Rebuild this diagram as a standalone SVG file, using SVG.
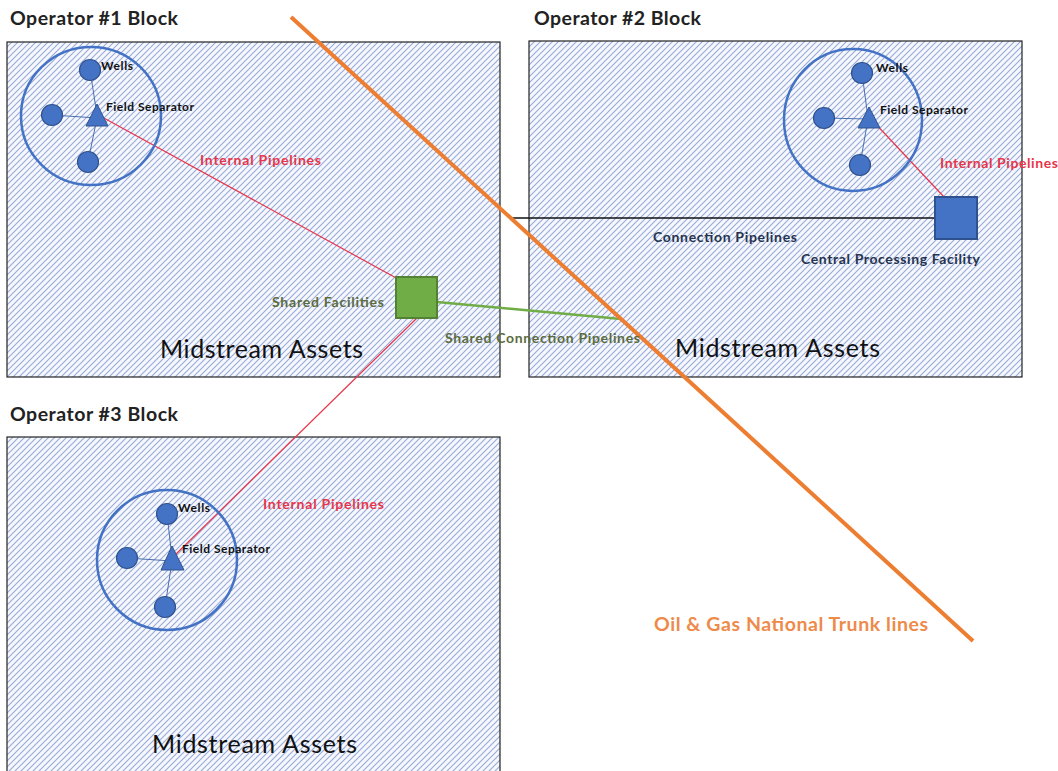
<svg xmlns="http://www.w3.org/2000/svg" width="1058" height="771" viewBox="0 0 1058 771">
  <style>
    .title { font-family: Lato, "Open Sans", sans-serif; font-weight: bold; font-size: 19.5px; fill: #222; }
    .asset { font-family: Lato, "Open Sans", sans-serif; font-size: 25px; fill: #111; }
    .small { font-family: Lato, "Open Sans", sans-serif; font-weight: bold; font-size: 12px; fill: #111; }
    .lbl { font-family: Lato, "Open Sans", sans-serif; font-weight: bold; font-size: 14px; }
    .red { fill: #e8354a; }
    .olive { fill: #5b6b3e; }
    .dark { fill: #26334f; }
    .block { fill: url(#hatch); stroke: #222; stroke-width: 1.2; }
    .ring { fill: none; stroke: #4472c4; stroke-width: 2.5; }
    .well { fill: #4472c4; stroke: #2f528f; stroke-width: 1.2; }
    .spoke { stroke: #4a6fb0; stroke-width: 1; }
    .sep { fill: #4472c4; stroke: #2f528f; stroke-width: 1; }
    .pipe-red { stroke: #e8354a; stroke-width: 1.2; fill: none; }
  </style>
  <defs>
    <pattern id="hatch" patternUnits="userSpaceOnUse" width="6" height="6">
      <rect width="6" height="6" fill="#f6f8fd"/>
      <path d="M-1,1 l2,-2 M0,6 l6,-6 M5,7 l2,-2" stroke="#98aad8" stroke-width="1.1"/>
    </pattern>
  </defs>

  <rect width="1058" height="771" fill="#ffffff"/>

  <!-- operator blocks -->
  <g id="block1">
    <text class="title" x="10" y="25" textLength="168">Operator #1 Block</text>
    <rect class="block" x="7" y="42" width="493" height="335"/>
    <text class="asset" x="160" y="358" textLength="203">Midstream Assets</text>
  </g>
  <g id="block2">
    <text class="title" x="534" y="25" textLength="167">Operator #2 Block</text>
    <rect class="block" x="529" y="41" width="493" height="336"/>
    <text class="asset" x="675" y="357" textLength="205">Midstream Assets</text>
  </g>
  <g id="block3">
    <text class="title" x="10" y="421" textLength="168">Operator #3 Block</text>
    <rect class="block" x="7" y="437" width="493" height="340"/>
    <text class="asset" x="152" y="753" textLength="205">Midstream Assets</text>
  </g>

  <!-- connectors -->
  <g id="connectors">
    <line class="pipe-red" x1="102" y1="117" x2="398" y2="279"/>
    <line class="pipe-red" x1="417" y1="318" x2="174" y2="556"/>
    <line class="pipe-red" x1="872" y1="120" x2="944" y2="197"/>
    <line x1="512" y1="218" x2="935" y2="218" stroke="#111" stroke-width="1.3"/>
    <line x1="437" y1="302" x2="621" y2="319" stroke="#70ad47" stroke-width="2.5"/>
    <line x1="291" y1="17" x2="973" y2="641" stroke="#ed7d31" stroke-width="4"/>
  </g>

  <!-- field clusters -->
  <g id="cluster1">
    <ellipse class="ring" cx="91" cy="116" rx="70" ry="69"/>
    <line class="spoke" x1="97" y1="115" x2="90" y2="70"/>
    <line class="spoke" x1="97" y1="118" x2="52" y2="115"/>
    <line class="spoke" x1="97" y1="118" x2="88" y2="162"/>
    <circle class="well" cx="90" cy="70" r="10.5"/>
    <circle class="well" cx="52" cy="115" r="10.5"/>
    <circle class="well" cx="88" cy="162" r="10.5"/>
    <polygon class="sep" points="97,104 86,126 108,126"/>
    <text class="small" x="101" y="70" textLength="32">Wells</text>
    <text class="small" x="106" y="111" textLength="88">Field Separator</text>
  </g>
  <g id="cluster2">
    <ellipse class="ring" cx="853" cy="120" rx="69" ry="71"/>
    <line class="spoke" x1="868" y1="118" x2="862" y2="73"/>
    <line class="spoke" x1="868" y1="119" x2="824" y2="118"/>
    <line class="spoke" x1="868" y1="119" x2="860" y2="165"/>
    <circle class="well" cx="862" cy="73" r="10.5"/>
    <circle class="well" cx="824" cy="118" r="10.5"/>
    <circle class="well" cx="860" cy="165" r="10.5"/>
    <polygon class="sep" points="869,107 858,128 880,128"/>
    <text class="small" x="876" y="72" textLength="32">Wells</text>
    <text class="small" x="880" y="114" textLength="88">Field Separator</text>
  </g>
  <g id="cluster3">
    <ellipse class="ring" cx="167" cy="560" rx="70" ry="70"/>
    <line class="spoke" x1="172" y1="558" x2="167" y2="514"/>
    <line class="spoke" x1="172" y1="561" x2="127" y2="558"/>
    <line class="spoke" x1="172" y1="561" x2="165" y2="607"/>
    <circle class="well" cx="167" cy="514" r="10.5"/>
    <circle class="well" cx="127" cy="558" r="10.5"/>
    <circle class="well" cx="165" cy="607" r="10.5"/>
    <polygon class="sep" points="172,546 161,570 184,570"/>
    <text class="small" x="178" y="512" textLength="32">Wells</text>
    <text class="small" x="182" y="553" textLength="88">Field Separator</text>
  </g>

  <!-- facilities -->
  <g id="shared-facilities">
    <rect x="396" y="277" width="41" height="41" fill="#70ad47" stroke="#548235" stroke-width="2"/>
    <text class="lbl olive" x="272" y="307" textLength="112">Shared Facilities</text>
  </g>
  <g id="central-processing">
    <rect x="935" y="197" width="42" height="42" fill="#4472c4" stroke="#2f528f" stroke-width="2"/>
    <text class="lbl dark" x="801" y="264" textLength="179">Central Processing Facility</text>
  </g>

  <!-- connector labels -->
  <g id="labels">
    <text class="lbl red" x="200" y="165" textLength="121">Internal Pipelines</text>
    <text class="lbl red" x="940" y="168" textLength="118">Internal Pipelines</text>
    <text class="lbl red" x="263" y="509" textLength="121">Internal Pipelines</text>
    <text class="lbl dark" x="653" y="242" textLength="144">Connection Pipelines</text>
    <text class="lbl olive" x="445" y="343" textLength="195">Shared Connection Pipelines</text>
    <text x="654" y="631" textLength="274" font-family="Lato, 'Open Sans', sans-serif" font-weight="bold" font-size="19.5" fill="#ee8a4a">Oil &amp; Gas National Trunk lines</text>
  </g>
</svg>
